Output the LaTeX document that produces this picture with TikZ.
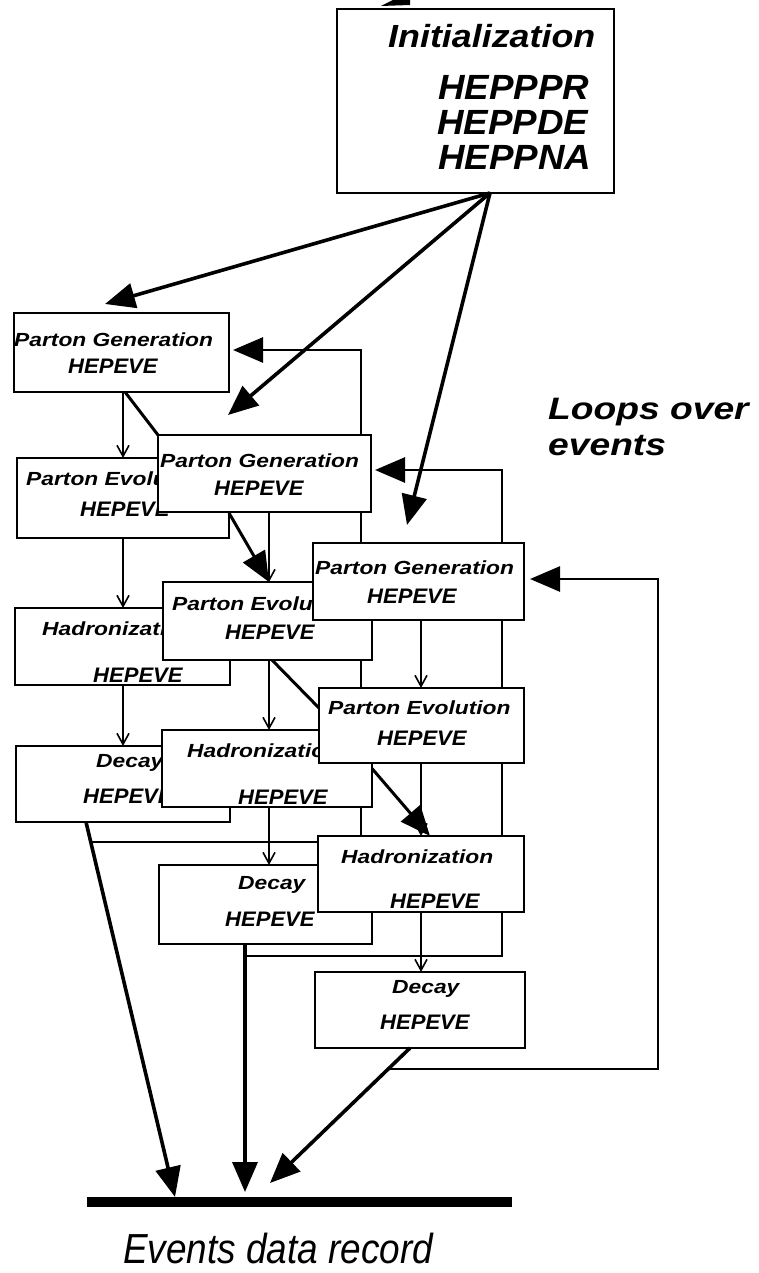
\documentclass[tikz,border=0pt]{standalone}
\usepackage{fontspec}
\setmainfont{Liberation Sans}
\newfontfamily\fLbl[FakeStretch=1.2]{Liberation Sans}
\newfontfamily\fHep[FakeStretch=1.05]{Liberation Sans}
\newfontfamily\fIni[FakeStretch=1.12]{Liberation Sans}
\newfontfamily\fEvr[FakeStretch=0.88]{Liberation Sans}
\usetikzlibrary{arrows.meta,calc}
\newcommand\mkbox[5]{\node[pbox,anchor=north west,minimum width={(#4-#2)*1pt},minimum height={(#5-#3)*1pt}] (#1) at (#2,#3) {};}
\begin{document}
\begin{tikzpicture}[x=1pt,y=-1pt,
  pbox/.style={draw,fill=white,line width=2pt,inner sep=0,outer sep=0,rectangle},
  lbl/.style={font=\fLbl\bfseries\itshape\fontsize{19}{22}\selectfont,inner sep=0,anchor=base west},
  hep/.style={font=\fHep\bfseries\itshape\fontsize{21}{24}\selectfont,inner sep=0,anchor=base west},
  thinarr/.style={line width=1.6pt,-{Straight Barb[length=11pt,width=12pt]}},
  bigtip/.style={-{Triangle[length=30pt,width=25pt]}},
  bigarr/.style={line width=3.6pt,bigtip},
  loopl/.style={line width=2.7pt,line join=miter,bigtip},
  diag/.style={line width=3pt}]
\useasboundingbox (0,0) rectangle (758,1273);

% column x positions of the thin arrows
\coordinate (xa) at (123,0);
\coordinate (xb) at (269,0);
\coordinate (xc) at (421,0);

% ---------- stack A ----------
\mkbox{A1}{14}{313}{229}{392}
\node[lbl] (A1a) at (14,346) {Parton Generation};
\node[hep] (A1b) at (68,373) {HEPEVE};
\mkbox{A2}{17}{458}{229}{538}
\node[lbl] (A2a) at (26,485) {Parton Evolution};
\node[hep] (A2b) at (80,516) {HEPEVE};
\mkbox{A3}{15}{608}{230}{685}
\node[lbl] (A3a) at (42,635) {Hadronization};
\node[hep] (A3b) at (93,682) {HEPEVE};
\mkbox{A4}{16}{746}{230}{822}
\node[lbl] (A4a) at (96,767) {Decay};
\node[hep] (A4b) at (83,803) {HEPEVE};
\draw[thinarr] (A1.south -| xa) -- (A2.north -| xa);
\draw[thinarr] (A2.south -| xa) -- (A3.north -| xa);
\draw[thinarr] (A3.south -| xa) -- (A4.north -| xa);

% events bar
\node[fill=black,minimum width=425pt,minimum height=10pt,inner sep=0,outer sep=0,anchor=north west] (ev) at (87,1197) {};

% A -> events and loop A
\coordinate (a4o) at ($(A4.south west)+(70,0)$);
\draw[bigarr] (a4o) -- ($(ev.north west)+(88,0)$);
\coordinate (la) at (91,842);
\coordinate (ca) at (361,350);
\draw[loopl] (la) -| (ca) -- ([xshift=4pt]A1.east |- ca);

% A -> B diagonals
\draw[diag] ($(A1.south west)+(111,0)$) -- ($(A1.south west)+(144,43)$);
\draw[diag,bigtip] ($(A2.east)+(0,15)$) -- (269,582);

% ---------- stack B ----------
\mkbox{B1}{158}{435}{371}{512}
\node[lbl] (B1a) at (160,467) {Parton Generation};
\node[hep] (B1b) at (214,495) {HEPEVE};
\mkbox{B2}{163}{582}{372}{660}
\node[lbl] (B2a) at (172,610) {Parton Evolution};
\node[hep] (B2b) at (225,639) {HEPEVE};
\mkbox{B3}{162}{730}{372}{807}
\node[lbl] (B3a) at (187,757) {Hadronization};
\node[hep] (B3b) at (238,804) {HEPEVE};
\mkbox{B4}{159}{865}{372}{944}
\node[lbl] (B4a) at (238,889) {Decay};
\node[hep] (B4b) at (225,926) {HEPEVE};
\draw[thinarr] (B1.south -| xb) -- (B2.north -| xb);
\draw[thinarr] (B2.south -| xb) -- (B3.north -| xb);
\draw[thinarr] (B3.south -| xb) -- (B4.north -| xb);

% B -> events and loop B
\coordinate (b4o) at ($(B4.south west)+(86,0)$);
\draw[bigarr] (b4o) -- ($(ev.north west)+(158,-5)$);
\coordinate (lb) at (245,956);
\coordinate (cb) at (502,470);
\draw[loopl] (lb) -| (cb) -- ([xshift=4pt]B1.east |- cb);

% B -> C diagonals
\draw[diag] ($(B2.south west)+(109,0)$) -- (319,708);
\draw[diag,bigtip] (B3.east) -- (430,836);

% ---------- stack C ----------
\mkbox{C1}{313}{543}{524}{620}
\node[lbl] (C1a) at (315,574) {Parton Generation};
\node[hep] (C1b) at (367,603) {HEPEVE};
\mkbox{C2}{319}{688}{524}{763}
\node[lbl] (C2a) at (328,714) {Parton Evolution};
\node[hep] (C2b) at (377,745) {HEPEVE};
\mkbox{C3}{318}{836}{524}{912}
\node[lbl] (C3a) at (341,863) {Hadronization};
\node[hep] (C3b) at (390,908) {HEPEVE};
\mkbox{C4}{315}{972}{525}{1048}
\node[lbl] (C4a) at (392,993) {Decay};
\node[hep] (C4b) at (380,1029) {HEPEVE};
\draw[thinarr] (C1.south -| xc) -- (C2.north -| xc);
\draw[thinarr] (C2.south -| xc) -- (C3.north -| xc);
\draw[thinarr] (C3.south -| xc) -- (C4.north -| xc);

% C -> events and loop C
\coordinate (c4o) at ($(C4.south west)+(95,0)$);
\draw[bigarr] (c4o) -- ($(ev.north west)+(183,-14)$);
\coordinate (lc) at (388,1069);
\coordinate (cc) at (658,579);
\draw[loopl] (lc) -| (cc) -- ([xshift=6pt]C1.east |- cc);

% ---------- initialization ----------
\mkbox{init}{337}{9}{614}{193}
\node[font=\fIni\bfseries\itshape\fontsize{32}{36}\selectfont,inner sep=0,anchor=base west] (it1) at (388,48) {Initialization};
\node[font=\fHep\bfseries\itshape\fontsize{35}{40}\selectfont,inner sep=0,anchor=base west] (it2) at (438,100) {HEPPPR};
\node[font=\fHep\bfseries\itshape\fontsize{35}{40}\selectfont,inner sep=0,anchor=base west] (it3) at (437,135) {HEPPDE};
\node[font=\fHep\bfseries\itshape\fontsize{35}{40}\selectfont,inner sep=0,anchor=base west] (it4) at (438,170) {HEPPNA};
\coordinate (io) at ($(init.south west)+(153,0)$);
\draw[bigarr] (io) -- ($(A1.north west)+(91,-9)$);
\draw[bigarr] (io) -- ($(B1.north west)+(70,-20)$);
\draw[bigarr] (io) -- ($(C1.north west)+(94,-18)$);
% partial arrowhead cut by the top edge
\fill (381,6) -- (393,0) -- (410,0) -- (410,5) -- cycle;

% ---------- texts ----------
\node[font=\fLbl\bfseries\itshape\fontsize{31}{36}\selectfont,inner sep=0,anchor=base west] (lp1) at (548,419) {Loops over};
\node[font=\fLbl\bfseries\itshape\fontsize{31}{36}\selectfont,inner sep=0,anchor=base west] (lp2) at (548,455) {events};
\node[font=\fEvr\itshape\fontsize{42}{48}\selectfont,inner sep=0,anchor=base west] (evl) at (123,1263) {Events data record};
\end{tikzpicture}
\end{document}
